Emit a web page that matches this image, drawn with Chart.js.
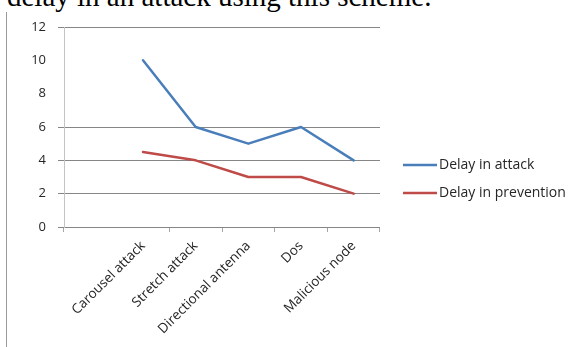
<!DOCTYPE html>
<html>
<head>
<meta charset="utf-8">
<script src="https://cdn.jsdelivr.net/npm/chart.js@4"></script>
<style>
  html, body { margin: 0; padding: 0; background: #fff; overflow: hidden; }
  #wrap { position: relative; width: 576px; height: 347px; overflow: hidden; }
  #caption {
    position: absolute; left: 7px; top: -18px; white-space: nowrap;
    font-family: "Liberation Serif", "Times New Roman", serif;
    font-size: 29px; line-height: 29px; color: #000;
  }
  #rule { position: absolute; left: 6px; top: 12px; width: 1px; height: 340px; background: #9a9a9a; }
  #chart { position: absolute; left: 0; top: 0; }
</style>
</head>
<body>
<div id="wrap">
  <div id="caption">delay in an attack using this scheme.</div>
  <div id="rule"></div>
  <canvas id="chart" width="576" height="347"></canvas>
</div>
<script>
// Attack types on the horizontal axis
const categories = ['Carousel attack', 'Stretch attack', 'Directional antenna', 'Dos', 'Malicious node'];
// Delay values per attack type
const delayInAttack = [10, 6, 5, 6, 4];
const delayInPrevention = [4.5, 4, 3, 3, 2];
// Value axis
const yMin = 0, yMax = 12, yStep = 2;
const yGridValues = [0, 2, 4, 6, 12];

const seriesNames = ['Delay in attack', 'Delay in prevention'];
const seriesColors = ['#4a7ebb', '#be4b48'];

// The category axis starts with one empty slot before the first attack type
const labels = [''].concat(categories);
const pad = (arr) => [null].concat(arr);

const gridGray = '#868686';
const textColor = '#262626';

const legendPlugin = {
  id: 'sideLegend',
  afterDraw(chart) {
    const ctx = chart.ctx;
    const area = chart.chartArea;
    const rows = [area.top + 138, area.top + 166];
    ctx.save();
    ctx.font = '14px "Open Sans"';
    ctx.textBaseline = 'middle';
    ctx.fillStyle = textColor;
    chart.data.datasets.forEach((ds, i) => {
      const y = rows[i];
      ctx.strokeStyle = ds.borderColor;
      ctx.lineWidth = 2.5;
      ctx.beginPath();
      ctx.moveTo(area.right + 23, y);
      ctx.lineTo(area.right + 57, y);
      ctx.stroke();
      ctx.fillText(ds.label, area.right + 59, y);
    });
    ctx.restore();
  }
};

new Chart(document.getElementById('chart'), {
  type: 'line',
  data: {
    labels: labels,
    datasets: [
      { label: seriesNames[0], data: pad(delayInAttack), borderColor: seriesColors[0], backgroundColor: seriesColors[0] },
      { label: seriesNames[1], data: pad(delayInPrevention), borderColor: seriesColors[1], backgroundColor: seriesColors[1] }
    ]
  },
  options: {
    responsive: false,
    animation: false,
    layout: { padding: { top: 27, left: 0, right: 196, bottom: 0 } },
    elements: {
      line: { borderWidth: 2.5, tension: 0, borderCapStyle: 'round', borderJoinStyle: 'round' },
      point: { radius: 0, hoverRadius: 0 }
    },
    plugins: { legend: { display: false }, tooltip: { enabled: false } },
    scales: {
      x: {
        type: 'category',
        offset: true,
        border: { display: false },
        grid: {
          offset: true,
          drawOnChartArea: false,
          drawTicks: true,
          tickLength: 5,
          color: (c) => (c.index === 1 ? 'rgba(0,0,0,0)' : '#a6a6a6')
        },
        ticks: {
          autoSkip: false,
          minRotation: 45,
          maxRotation: 45,
          padding: 6,
          color: textColor,
          font: { family: 'Open Sans', size: 13.5 }
        },
        afterFit(scale) { scale.height = 120; }
      },
      y: {
        min: yMin,
        max: yMax,
        border: { display: true, color: '#c4c4c4' },
        grid: {
          drawTicks: true,
          tickLength: 6,
          color: (c) => (c.tick && yGridValues.includes(c.tick.value) ? gridGray : 'rgba(0,0,0,0)')
        },
        ticks: {
          stepSize: yStep,
          padding: 12,
          color: textColor,
          font: { family: 'Open Sans', size: 13 }
        },
        afterFit(scale) { scale.width = 64; }
      }
    }
  },
  plugins: [legendPlugin]
});
</script>
</body>
</html>
